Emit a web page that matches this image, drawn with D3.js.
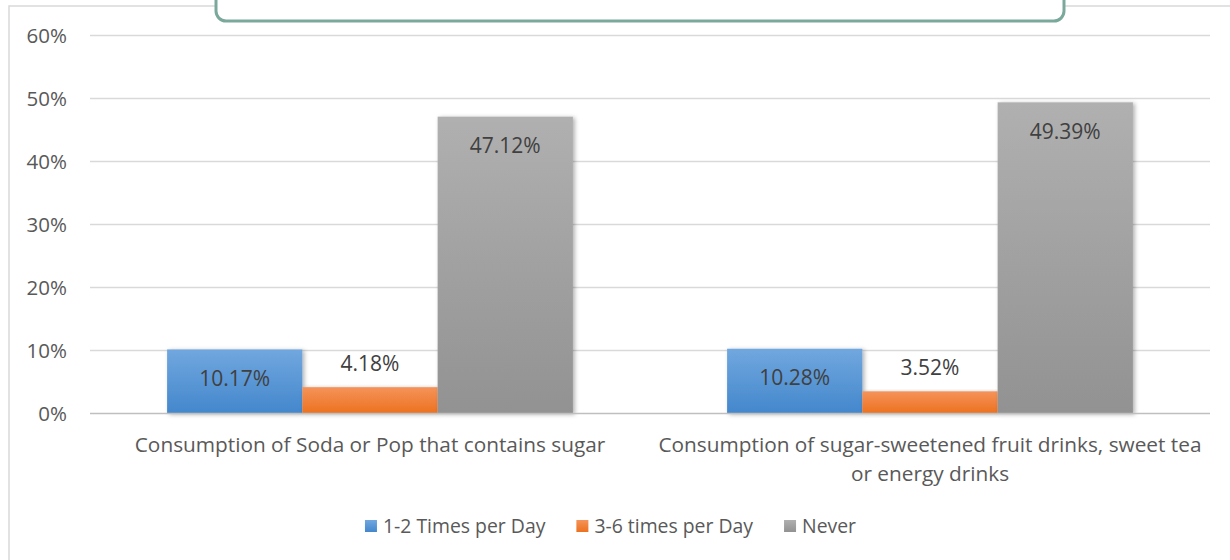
<!DOCTYPE html>
<html>
<head>
<meta charset="utf-8">
<script src="https://cdn.jsdelivr.net/npm/d3@7/dist/d3.min.js"></script>
<style>
  html, body { margin: 0; padding: 0; background: #fff; }
  svg { display: block; }
  text { font-family: "Open Sans", sans-serif; fill: #595959; }
</style>
</head>
<body>
<svg id="chart" width="1230" height="560"></svg>
<script>
const categories = [
  "Consumption of Soda or Pop that contains sugar",
  "Consumption of sugar-sweetened fruit drinks, sweet tea or energy drinks"
];
const categoryLines = [
  ["Consumption of Soda or Pop that contains sugar"],
  ["Consumption of sugar-sweetened fruit drinks, sweet tea", "or energy drinks"]
];
const seriesNames = ["1-2 Times per Day", "3-6 times per Day", "Never"];
const onceTwice = [10.17, 10.28];
const threeSix = [4.18, 3.52];
const never = [47.12, 49.39];
const yTicks = [0, 10, 20, 30, 40, 50, 60];

(function () {
const seriesValues = [onceTwice, threeSix, never];
const colorsTop = ["#71a7df", "#f5935a", "#b0b0b0"];
const colorsBot = ["#4387cc", "#ec711f", "#929292"];

const svg = d3.select("#chart");
const defs = svg.append("defs");
seriesNames.forEach((s, i) => {
  const g = defs.append("linearGradient").attr("id", "grad" + i)
    .attr("x1", 0).attr("y1", 0).attr("x2", 0).attr("y2", 1);
  g.append("stop").attr("offset", "0%").attr("stop-color", colorsTop[i]);
  g.append("stop").attr("offset", "100%").attr("stop-color", colorsBot[i]);
});
const f = defs.append("filter").attr("id", "shadow")
  .attr("x", "-10%").attr("y", "-10%").attr("width", "130%").attr("height", "130%");
f.append("feDropShadow").attr("dx", 2).attr("dy", 1).attr("stdDeviation", 2)
  .attr("flood-color", "#000").attr("flood-opacity", 0.3);

// chart outer border
svg.append("rect").attr("x", 9).attr("y", 6).attr("width", 1240).attr("height", 600)
  .attr("fill", "#fff").attr("stroke", "#d9d9d9").attr("stroke-width", 1.5);

const pLeft = 90, pRight = 1210, pTop = 35.5, pBottom = 413.5;
const y = d3.scaleLinear().domain([0, 60]).range([pBottom, pTop]);
const x0 = d3.scaleBand().domain(categories).range([pLeft, pRight]).paddingInner(0).paddingOuter(0);
const x1 = d3.scaleBand().domain(seriesNames).range([0, x0.bandwidth()]).paddingInner(0).paddingOuter(0.57);

// gridlines
svg.append("g").selectAll("line").data(yTicks.filter(t => t > 0)).join("line")
  .attr("x1", pLeft).attr("x2", pRight)
  .attr("y1", d => y(d)).attr("y2", d => y(d))
  .attr("stroke", "#d9d9d9").attr("stroke-width", 1.5);

// y axis labels
const yAxis = d3.axisLeft(y).tickValues(yTicks).tickSize(0).tickPadding(0).tickFormat(d => d + "%");
const ya = svg.append("g").attr("transform", "translate(67,0)").call(yAxis);
ya.select(".domain").remove();
ya.selectAll("text").style("font-size", "20.5px").style("fill", "#595959")
  .style("font-family", "Open Sans, sans-serif").attr("dy", "0.34em");

// bars
const groups = svg.append("g").selectAll("g").data(categories).join("g")
  .attr("transform", d => `translate(${x0(d)},0)`);
groups.each(function(cat, ci) {
  const g = d3.select(this);
  seriesNames.forEach((s, si) => {
    const v = seriesValues[si][ci];
    g.append("rect")
      .attr("x", x1(s)).attr("width", x1.bandwidth())
      .attr("y", y(v)).attr("height", pBottom - y(v))
      .attr("fill", `url(#grad${si})`).attr("filter", "url(#shadow)");
  });
});
groups.each(function(cat, ci) {
  const g = d3.select(this);
  seriesNames.forEach((s, si) => {
    const v = seriesValues[si][ci];
    const inside = (pBottom - y(v)) > 50;
    g.append("text")
      .attr("x", x1(s) + x1.bandwidth() / 2)
      .attr("y", inside ? y(v) + 29 : y(v) - 24)
      .attr("dy", "0.35em")
      .attr("text-anchor", "middle")
      .style("font-size", "21px")
      .style("fill", "#404040")
      .text(v.toFixed(2) + "%");
  });
});

// x axis baseline
svg.append("line").attr("x1", pLeft).attr("x2", pRight).attr("y1", pBottom).attr("y2", pBottom)
  .attr("stroke", "#bfbfbf").attr("stroke-width", 1.5);

// category labels
categories.forEach((c, i) => {
  const cx = x0(c) + x0.bandwidth() / 2;
  const t = svg.append("text").attr("text-anchor", "middle")
    .attr("x", cx).attr("y", 452)
    .style("font-size", "20.8px");
  categoryLines[i].forEach((ln, li) => {
    t.append("tspan").attr("x", cx).attr("dy", li === 0 ? 0 : 29).text(ln);
  });
});

// legend
const leg = svg.append("g");
let lx = 0;
seriesNames.forEach((s, i) => {
  const it = leg.append("g").attr("transform", `translate(${lx},0)`);
  it.append("rect").attr("x", 0).attr("y", -6).attr("width", 12).attr("height", 12)
    .attr("fill", `url(#grad${i})`);
  const tx = it.append("text").attr("x", 18).attr("dy", "0.35em").style("font-size", "19.4px").text(s);
  const w = 18 + tx.node().getComputedTextLength();
  lx += w + 31;
});
const totalW = lx - 31;
leg.attr("transform", `translate(${610.5 - totalW / 2},526)`);

// teal box at top
svg.append("rect").attr("x", 216).attr("y", -20).attr("width", 848).attr("height", 41)
  .attr("rx", 10).attr("ry", 10)
  .attr("fill", "#fff").attr("stroke", "#7aa99c").attr("stroke-width", 3);
})();
</script>
</body>
</html>
